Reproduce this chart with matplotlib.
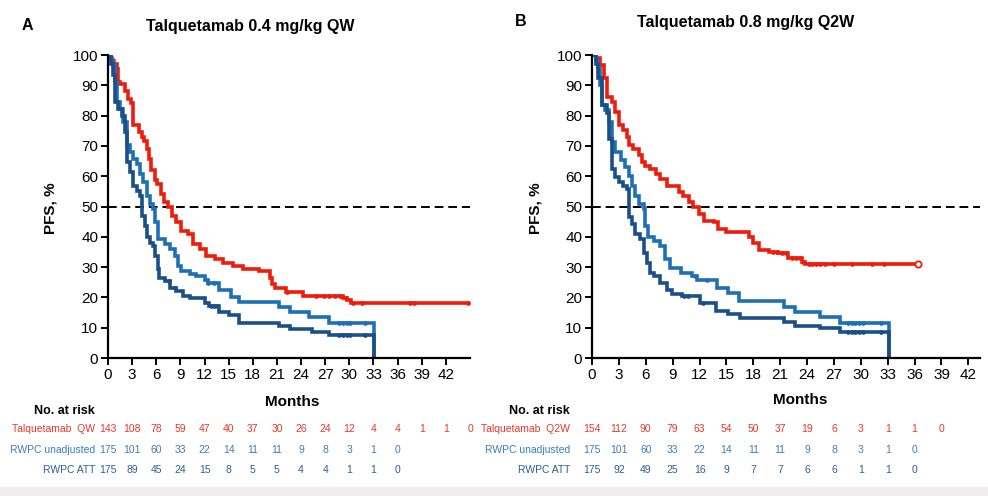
import numpy as np
import matplotlib
matplotlib.use("Agg")
import matplotlib.pyplot as plt
from matplotlib.transforms import blended_transform_factory

plt.rcParams['font.family'] = ['Liberation Sans', 'DejaVu Sans']

RED = "#ee1c0c"
BLUE = "#1f6fb6"
NAVY = "#1b4f87"
RED_TXT = "#e8382c"
BLUE_TXT = "#3b7dbd"
NAVY_TXT = "#2e5e94"

# ---- Panel A: Talquetamab 0.4 mg/kg QW ----
a_qw_t = [0, 0.25, 0.5, 0.8, 1.07, 1.3, 1.5, 2.1, 2.5, 2.9, 3.1, 3.9, 4.2, 4.5, 4.8, 5.1,
          5.4, 5.8, 6.1, 6.65, 6.9, 7.5, 7.9, 8.5, 9.1, 10.0, 10.6, 11.4, 12.2, 13.3,
          14.3, 15.5, 16.8, 18.8, 20.1, 20.4, 20.7, 22.1, 24.2, 29.2, 29.7, 30.2, 45.0]
a_qw_s = [100, 99, 98, 97, 95.5, 91, 90.5, 88, 85.6, 84, 77, 74.5, 73, 71.5, 69, 65.7,
          62, 58.6, 57.5, 54, 51.4, 50, 47, 44.8, 42, 40.9, 37.6, 35.9, 33.7, 32.6,
          31.5, 30.4, 29.3, 28.7, 26.5, 24.5, 23, 21.7, 20.6, 19.8, 19, 18.2, 18.2]
a_qw_cens = [22.3, 25.9, 26.9, 27.5, 28.2, 28.8, 29.6, 30.4, 31.6, 37.6, 38.0, 44.8]

a_un_t = [0, 0.4, 0.6, 0.9, 1.1, 1.5, 1.9, 2.3, 2.7, 3.1, 3.6, 4.0, 4.4, 4.8, 5.2, 5.6,
          5.8, 6.2, 7.1, 7.7, 8.3, 8.7, 9.1, 10.2, 11.0, 12.0, 12.4, 13.8, 15.3, 16.3,
          21.3, 22.6, 25.0, 27.5, 33.1]
a_un_s = [100, 98.5, 96.7, 91, 84.5, 82.3, 77.9, 70.2, 68, 65.7, 64, 60.8, 58, 53.6, 50.8, 49.2,
          44.8, 39.2, 37.6, 35.9, 33.7, 30.4, 28.7, 27.6, 27, 25.7, 24.6, 22.4, 20.2, 18.6,
          16.9, 15.3, 13.6, 11.7, 0]
a_un_cens = [12.4, 13.2, 28.7, 29.2, 29.7, 30.1, 32.0]

a_att_t = [0, 0.4, 0.6, 0.9, 1.3, 1.7, 2.1, 2.3, 2.7, 3.1, 3.6, 4.0, 4.2, 4.6, 4.9, 5.2,
           5.6, 5.8, 6.2, 6.4, 7.1, 7.7, 8.5, 9.3, 10.2, 12.0, 12.6, 13.8, 15.1, 16.3,
           21.3, 22.6, 25.3, 27.5, 33.1]
a_att_s = [100, 97, 93.4, 84.5, 82.3, 80, 74.6, 64.6, 61.3, 56.9, 55.2, 53.6, 47, 43.6, 40, 38.1,
           37, 33.7, 29.3, 26.5, 25.4, 23.2, 22.1, 20.4, 19.9, 18, 17, 15.3, 14.2, 11.4,
           10.6, 9.5, 8.7, 7.5, 0]
a_att_cens = [7.6, 8.3, 12.8, 13.2, 13.6, 28.7, 29.2, 29.7, 30.1, 32.0]

# ---- Panel B: Talquetamab 0.8 mg/kg Q2W ----
b_q2w_t = [0, 0.5, 0.9, 1.3, 1.7, 2.2, 2.6, 3.0, 3.5, 3.9, 4.1, 4.6, 5.2, 5.6, 5.9, 6.5,
           7.1, 7.6, 8.4, 9.7, 10.2, 10.8, 11.3, 11.9, 12.5, 13.6, 14.1, 14.9, 17.5, 18.0,
           18.6, 19.7, 20.8, 21.9, 23.4, 23.8, 36.4]
b_q2w_s = [100, 99, 96.7, 92.3, 86.2, 84.5, 81.2, 76.8, 75.1, 72.9, 70.2, 69, 66.9, 64.6, 63.5, 62.4,
           60.8, 59.1, 56.9, 54.7, 53.6, 51.4, 49.7, 47.5, 45.3, 44.8, 42.5, 41.7, 40, 37.8,
           35.6, 35.1, 34.5, 32.9, 31.8, 31, 31]
b_q2w_cens = [20.2, 20.6, 21.2, 21.6, 22.3, 22.8, 23.2, 23.6, 24.2, 24.6, 25.0, 25.5, 26.0,
              27.0, 29.0, 31.2, 32.6]

b_un_t = [0, 0.4, 0.7, 0.9, 1.1, 1.5, 1.9, 2.2, 2.6, 3.2, 3.7, 4.1, 4.5, 4.8, 5.2, 5.8,
          5.9, 6.3, 6.9, 7.6, 8.2, 8.7, 9.9, 11.2, 11.7, 13.9, 15.2, 16.4, 21.4, 22.7,
          25.5, 27.7, 33.1]
b_un_s = [100, 98, 95.6, 90, 83.4, 81.8, 77.9, 71.3, 68, 65.2, 63, 60.2, 56.9, 53.6, 50.8, 49.2,
          43.6, 39.8, 38.7, 37, 32.6, 29.8, 28.2, 27, 25.9, 23, 21.3, 18.8, 16.9, 15.3,
          13.6, 11.7, 0]
b_un_cens = [11.5, 12.8, 28.6, 29.0, 29.4, 29.8, 30.2, 32.2]

b_att_t = [0, 0.4, 0.7, 1.1, 1.7, 1.9, 2.2, 2.6, 3.0, 3.5, 3.9, 4.1, 4.5, 4.8, 5.4, 5.8,
           6.1, 6.5, 6.9, 7.6, 8.4, 8.9, 10.0, 12.1, 13.8, 15.2, 16.5, 21.4, 22.7, 25.5,
           27.7, 33.1]
b_att_s = [100, 97, 92.3, 83.4, 80.7, 72.4, 62.4, 59.7, 58, 56.9, 55.8, 46.4, 44.2, 40.9, 39.2, 34.8,
           31.5, 28.2, 27, 24.8, 22.6, 21, 20.4, 18.2, 15.6, 14.5, 13.1, 12, 10.6, 9.8,
           8.5, 0]
b_att_cens = [10.3, 10.7, 12.4, 28.6, 29.0, 29.4, 29.8, 30.2, 32.2]

# ---- numbers at risk ----
a_risk_qw = [143, 108, 78, 59, 47, 40, 37, 30, 26, 24, 12, 4, 4, 1, 1, 0]
a_risk_un = [175, 101, 60, 33, 22, 14, 11, 11, 9, 8, 3, 1, 0]
a_risk_att = [175, 89, 45, 24, 15, 8, 5, 5, 4, 4, 1, 1, 0]
b_risk_q2w = [154, 112, 90, 79, 63, 54, 50, 37, 19, 6, 3, 1, 1, 0]
b_risk_un = [175, 101, 60, 33, 22, 14, 11, 11, 9, 8, 3, 1, 0]
b_risk_att = [175, 92, 49, 25, 16, 9, 7, 7, 6, 6, 1, 1, 0]

xticks = list(range(0, 43, 3))
yticks = list(range(0, 101, 10))


def step_value(t, s, x):
    idx = np.searchsorted(t, x, side="right") - 1
    return s[idx]


def km(ax, t, s, cens, color):
    ax.step(t, s, where="post", color=color, lw=2.6, solid_joinstyle="miter",
            solid_capstyle="butt")
    cy = [step_value(t, s, c) for c in cens]
    ax.plot(cens, cy, "o", color=color, ms=3.4, mew=0)


def style(ax, xmax):
    ax.set_xlim(0, xmax)
    ax.set_ylim(0, 100)
    ax.set_xticks(xticks)
    ax.set_yticks(yticks)
    ax.spines[["top", "right"]].set_visible(False)
    for sp in ["left", "bottom"]:
        ax.spines[sp].set_linewidth(1.6)
    ax.tick_params(direction="out", length=5, width=1.4, labelsize=11, pad=2)
    ax.axhline(50, color="black", lw=1.4, dashes=(4.5, 2.5), zorder=1)


fig = plt.figure(figsize=(9.88, 4.96), dpi=100)
W, H = 988, 496


def fx(px):
    return px / W


def fy(py):
    return 1 - py / H


axA = fig.add_axes([fx(108), fy(358), fx(470 - 108), (358 - 55) / H])
axB = fig.add_axes([fx(592), fy(358), fx(980 - 592), (358 - 55) / H])

style(axA, 45)
style(axB, 43.3)

km(axA, a_qw_t, a_qw_s, a_qw_cens, RED)
km(axA, a_un_t, a_un_s, a_un_cens, BLUE)
km(axA, a_att_t, a_att_s, a_att_cens, NAVY)

km(axB, b_q2w_t, b_q2w_s, b_q2w_cens, RED)
axB.plot([b_q2w_t[-1]], [b_q2w_s[-1]], "o", mfc="white", mec=RED, ms=4.5, mew=1.3)
km(axB, b_un_t, b_un_s, b_un_cens, BLUE)
km(axB, b_att_t, b_att_s, b_att_cens, NAVY)

# titles, panel letters, axis labels
fig.text(fx(22), fy(26), "A", fontsize=11.5, fontweight="bold", va="center")
fig.text(fx(250), fy(26), "Talquetamab 0.4 mg/kg QW", fontsize=11.5, fontweight="bold",
         ha="center", va="center")
fig.text(fx(515), fy(22), "B", fontsize=11.5, fontweight="bold", va="center")
fig.text(fx(746), fy(22), "Talquetamab 0.8 mg/kg Q2W", fontsize=11.5, fontweight="bold",
         ha="center", va="center")

for x, y in [(50, 208), (535, 208)]:
    fig.text(fx(x), fy(y), "PFS, %", fontsize=11, fontweight="bold", rotation=90,
             ha="center", va="center")
fig.text(fx(292), fy(402), "Months", fontsize=11, fontweight="bold", ha="center", va="center")
fig.text(fx(800), fy(400), "Months", fontsize=11, fontweight="bold", ha="center", va="center")


# number at risk tables
def risk_table(ax, label_x, rows):
    tr = blended_transform_factory(ax.transData, fig.transFigure)
    fig.text(fx(label_x), fy(411), "No. at risk", fontsize=9, fontweight="bold",
             ha="right", va="center")
    for (name, vals, color), y in zip(rows, [429, 450, 470]):
        fig.text(fx(label_x), fy(y), name, fontsize=7.5, color=color, ha="right", va="center")
        for i, v in enumerate(vals):
            ax.text(i * 3, fy(y), str(v), transform=tr, fontsize=7.5, color=color,
                    ha="center", va="center")


risk_table(axA, 95, [("Talquetamab  QW", a_risk_qw, RED_TXT),
                     ("RWPC unadjusted", a_risk_un, BLUE_TXT),
                     ("RWPC ATT", a_risk_att, NAVY_TXT)])
risk_table(axB, 570, [("Talquetamab  Q2W", b_risk_q2w, RED_TXT),
                      ("RWPC unadjusted", b_risk_un, BLUE_TXT),
                      ("RWPC ATT", b_risk_att, NAVY_TXT)])

# light grey band along the bottom edge
fig.patches.append(plt.Rectangle((0, 0), 1, 9 / H, transform=fig.transFigure,
                                 color="#efeeec", zorder=0))

fig.savefig("out.png", dpi=100)
